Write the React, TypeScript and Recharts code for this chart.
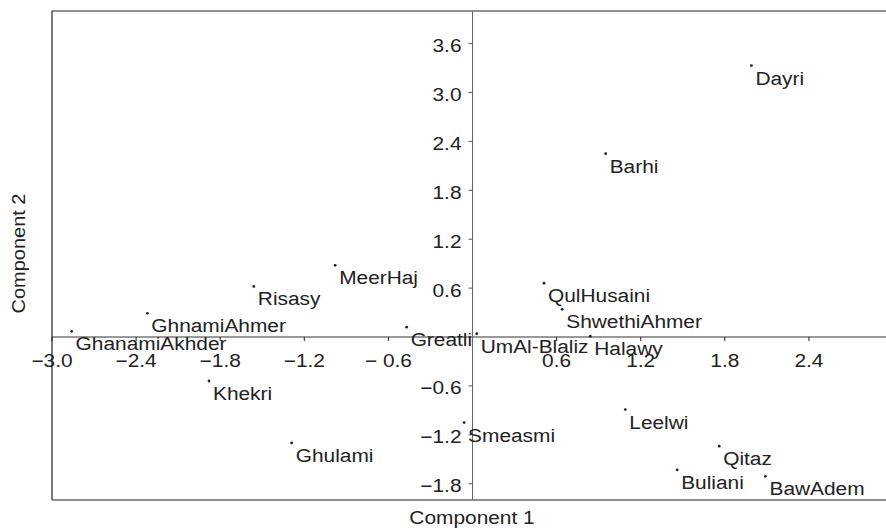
import { ScatterChart, Scatter, XAxis, YAxis, ReferenceLine, ReferenceDot } from "recharts";

// cultivars on the first two principal components
const cultivars = [
  "Dayri", "Barhi", "MeerHaj", "Risasy", "QulHusaini", "ShwethiAhmer",
  "GhnamiAhmer", "GhanamiAkhder", "Greatli", "UmAl-Blaliz", "Halawy", "Khekri",
  "Leelwi", "Smeasmi", "Ghulami", "Qitaz", "Buliani", "BawAdem",
];
const comp1 = [1.99, 0.95, -0.98, -1.56, 0.51, 0.64, -2.32, -2.86, -0.47, 0.03, 0.84, -1.88, 1.09, -0.06, -1.29, 1.76, 1.46, 2.09];
const comp2 = [3.33, 2.25, 0.88, 0.62, 0.66, 0.34, 0.29, 0.07, 0.12, 0.04, 0.01, -0.54, -0.89, -1.05, -1.3, -1.34, -1.63, -1.71];

const xTicks = [-3.0, -2.4, -1.8, -1.2, -0.6, 0.6, 1.2, 1.8, 2.4];
const xTickLabels = ["\u22123.0", "\u22122.4", "\u22121.8", "\u22121.2", "\u2212 0.6", "0.6", "1.2", "1.8", "2.4"];
const yTicks = [3.6, 3.0, 2.4, 1.8, 1.2, 0.6, -0.6, -1.2, -1.8];
const yTickLabels = ["3.6", "3.0", "2.4", "1.8", "1.2", "0.6", "\u22120.6", "\u22121.2", "\u22121.8"];

const xDomain = [-3, 2.95];
const yDomain = [-2, 4];

const points = cultivars.map((name, i) => ({ name, x: comp1[i], y: comp2[i] }));

const INK = "#222";
const FONT = "'Liberation Sans', Arial, Helvetica, sans-serif";
const STRETCH = 1.16;

function Txt({ x, y, anchor = "start", rotate = 0, stretch = STRETCH, children }: any) {
  return (
    <text
      transform={`translate(${x},${y}) rotate(${rotate}) scale(${stretch},1)`}
      textAnchor={anchor}
      fontSize={18}
      fontFamily={FONT}
      fill={INK}
    >
      {children}
    </text>
  );
}

function PointMark({ cx, cy, payload }: any) {
  if (cx == null || cy == null) return null;
  return (
    <g>
      <circle cx={cx} cy={cy} r={1.4} fill={INK} />
      <Txt x={cx + 4} y={cy + 19}>{payload.name}</Txt>
    </g>
  );
}

function XTick({ cx, cy, text }: any) {
  return (
    <g>
      <line x1={cx} y1={cy} x2={cx} y2={cy + 4} stroke={INK} strokeWidth={1} />
      <Txt x={cx} y={cy + 30} anchor="middle">{text}</Txt>
    </g>
  );
}

function YTick({ cx, cy, text }: any) {
  return (
    <g>
      <line x1={cx - 4} y1={cy} x2={cx} y2={cy} stroke="#555" strokeWidth={1} />
      <Txt x={cx - 11} y={cy + 8.5} anchor="end">{text}</Txt>
    </g>
  );
}

// axis titles hang off the middle of the bottom and left frame edges
const XTitle = ({ cx, cy }: any) => <Txt x={cx + 3} y={cy + 24} anchor="middle">Component 1</Txt>;
const YTitle = ({ cx, cy }: any) => (
  <Txt x={cx - 27} y={cy - 2} anchor="middle" rotate={-90} stretch={1.11}>Component 2</Txt>
);

export default function App() {
  const midX = (xDomain[0] + xDomain[1]) / 2;
  const midY = (yDomain[0] + yDomain[1]) / 2;
  return (
    <div style={{ position: "absolute", left: 0, top: 0, width: 886, height: 528, background: "#fff" }}>
      <ScatterChart width={886} height={528} margin={{ top: 11, right: 0, bottom: 28, left: 52 }}>
        <XAxis type="number" dataKey="x" domain={xDomain} hide />
        <YAxis type="number" dataKey="y" domain={yDomain} hide />
        {/* frame */}
        <ReferenceLine y={yDomain[1]} stroke={INK} strokeWidth={1.2} />
        <ReferenceLine y={yDomain[0]} stroke={INK} strokeWidth={1.2} />
        <ReferenceLine x={xDomain[0]} stroke={INK} strokeWidth={1.2} />
        {/* axes through the origin */}
        <ReferenceLine y={0} stroke="#333" strokeWidth={1} />
        <ReferenceLine x={0} stroke="#666" strokeWidth={1} />
        {xTicks.map((t, i) => (
          <ReferenceDot key={"x" + t} x={t} y={0} shape={(p: any) => <XTick {...p} text={xTickLabels[i]} />} />
        ))}
        {yTicks.map((t, i) => (
          <ReferenceDot key={"y" + t} x={0} y={t} shape={(p: any) => <YTick {...p} text={yTickLabels[i]} />} />
        ))}
        <ReferenceDot x={midX} y={yDomain[0]} shape={(p: any) => <XTitle {...p} />} />
        <ReferenceDot x={xDomain[0]} y={midY} shape={(p: any) => <YTitle {...p} />} />
        <Scatter data={points} shape={<PointMark />} isAnimationActive={false} />
      </ScatterChart>
    </div>
  );
}
